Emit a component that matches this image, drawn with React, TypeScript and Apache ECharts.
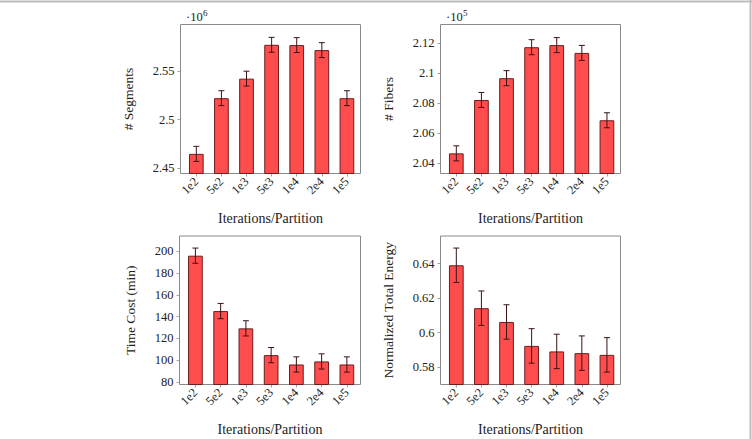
import React, { useEffect, useRef } from "react";
import * as echarts from "echarts";

const categories = ["1e2", "5e2", "1e3", "5e3", "1e4", "2e4", "1e5"];
const segments = [2.4645, 2.5221, 2.5423, 2.5773, 2.577, 2.5718, 2.5221];
const segmentsErr = [0.0078, 0.0077, 0.0077, 0.0077, 0.0077, 0.0077, 0.0077];
const fibers = [2.0467, 2.0822, 2.0967, 2.1173, 2.1187, 2.1135, 2.0687];
const fibersErr = [0.005, 0.005, 0.005, 0.005, 0.005, 0.005, 0.005];
const timeCost = [196, 145.1, 129.2, 104.6, 96, 98.8, 96];
const timeErr = [7, 7, 7, 7, 7, 7, 7];
const energy = [0.6391, 0.6142, 0.6062, 0.5923, 0.5891, 0.5881, 0.5871];
const energyErr = [0.01, 0.01, 0.01, 0.01, 0.01, 0.01, 0.01];

const segTicks = [2.45, 2.5, 2.55];
const fibTicks = [2.04, 2.06, 2.08, 2.1, 2.12];
const timeTicks = [80, 100, 120, 140, 160, 180, 200];
const energyTicks = [0.58, 0.6, 0.62, 0.64];

const FONT = "Liberation Serif";
const TXT = "#222222";

type Panel = {
  grid: { left: number; top: number; width: number; height: number };
  values: number[];
  errs: number[];
  ticks: number[];
  yMin: number;
  yMax: number;
  yName: string;
  nameGap: number;
};

const panels: Panel[] = [
  { grid: { left: 180.5, top: 24.5, width: 180, height: 149 }, values: segments, errs: segmentsErr, ticks: segTicks, yMin: 2.4442, yMax: 2.5983, yName: "# Segments", nameGap: 45 },
  { grid: { left: 440.5, top: 24.5, width: 180, height: 149 }, values: fibers, errs: fibersErr, ticks: fibTicks, yMin: 2.0333, yMax: 2.1324, yName: "# Fibers", nameGap: 45 },
  { grid: { left: 179.5, top: 236, width: 181, height: 148.5 }, values: timeCost, errs: timeErr, ticks: timeTicks, yMin: 77.6, yMax: 214.1, yName: "Time Cost (min)", nameGap: 42 },
  { grid: { left: 440.5, top: 236, width: 180, height: 148.5 }, values: energy, errs: energyErr, ticks: energyTicks, yMin: 0.5699, yMax: 0.6561, yName: "Normalized Total Energy", nameGap: 45 },
];

export default function App() {
  const ref = useRef<HTMLDivElement>(null);
  useEffect(() => {
    if (!ref.current) return;
    const chart = echarts.init(ref.current, null, { renderer: "svg" });
    const idx = categories.map((_, i) => i);
    const grids: any[] = [];
    const xAxes: any[] = [];
    const yAxes: any[] = [];
    const series: any[] = [];
    panels.forEach((p, k) => {
      grids.push({
        ...p.grid,
        show: true,
        borderColor: "#8a8a8a",
        borderWidth: 1,
        backgroundColor: "transparent",
        containLabel: false,
        outerBoundsMode: "none",
      });
      xAxes.push({
        type: "value",
        gridIndex: k,
        min: -0.63,
        max: 6.54,
        splitLine: { show: false },
        axisLine: { show: false, onZero: false },
        axisTick: { show: true, customValues: idx, length: 3, lineStyle: { color: "#a0a0a0" } },
        axisLabel: {
          customValues: idx,
          rotate: 45,
          margin: 6,
          fontFamily: FONT,
          fontSize: 12.5,
          color: TXT,
          formatter: (v: number) => categories[Math.round(v)] ?? "",
        },
        name: "Iterations/Partition",
        nameLocation: "middle",
        nameGap: 38,
        nameTextStyle: { fontFamily: FONT, fontSize: 14, color: TXT },
      });
      yAxes.push({
        type: "value",
        gridIndex: k,
        min: p.yMin,
        max: p.yMax,
        splitLine: { show: false },
        axisLine: { show: false, onZero: false },
        axisTick: { show: true, customValues: p.ticks, length: 3, lineStyle: { color: "#a0a0a0" } },
        axisLabel: {
          customValues: p.ticks,
          margin: 6,
          fontFamily: FONT,
          fontSize: 12.5,
          color: TXT,
          formatter: (v: number) => String(Number(v.toFixed(4))),
        },
        name: p.yName,
        nameLocation: "middle",
        nameRotate: 90,
        nameGap: p.nameGap,
        nameTextStyle: { fontFamily: FONT, fontSize: 13.5, color: TXT },
      });
      series.push({
        type: "bar",
        xAxisIndex: k,
        yAxisIndex: k,
        barWidth: 14.7,
        data: p.values.map((v, i) => [i, v]),
        itemStyle: { color: "#FF4D4D", borderColor: "#6e1c1c", borderWidth: 1 },
        silent: true,
      });
      series.push({
        type: "custom",
        xAxisIndex: k,
        yAxisIndex: k,
        data: p.values.map((v, i) => [i, v - p.errs[i], v + p.errs[i]]),
        renderItem: (params: any, api: any) => {
          const x = api.value(0);
          const lo = api.coord([x, api.value(1)]);
          const hi = api.coord([x, api.value(2)]);
          const cap = 3;
          const style = { stroke: "#3a1414", lineWidth: 1 };
          return {
            type: "group",
            children: [
              { type: "line", shape: { x1: lo[0], y1: lo[1], x2: hi[0], y2: hi[1] }, style },
              { type: "line", shape: { x1: lo[0] - cap, y1: lo[1], x2: lo[0] + cap, y2: lo[1] }, style },
              { type: "line", shape: { x1: hi[0] - cap, y1: hi[1], x2: hi[0] + cap, y2: hi[1] }, style },
            ],
          };
        },
        silent: true,
        z: 5,
      });
    });

    chart.setOption({
      animation: false,
      backgroundColor: "#ffffff",
      grid: grids,
      xAxis: xAxes,
      yAxis: yAxes,
      series,
      graphic: [
        { type: "line", shape: { x1: 0, y1: 1.5, x2: 752, y2: 1.5 }, style: { stroke: "#bdbdbd", lineWidth: 2 } },
        { type: "line", shape: { x1: 750.5, y1: 0, x2: 750.5, y2: 439 }, style: { stroke: "#bdbdbd", lineWidth: 2 } },
        { type: "text", x: 186, y: 17, style: { text: "·10", fontFamily: FONT, fontSize: 12.5, fill: TXT, verticalAlign: "middle" } },
        { type: "text", x: 203, y: 13, style: { text: "6", fontFamily: FONT, fontSize: 9, fill: TXT, verticalAlign: "middle" } },
        { type: "text", x: 446, y: 17, style: { text: "·10", fontFamily: FONT, fontSize: 12.5, fill: TXT, verticalAlign: "middle" } },
        { type: "text", x: 463, y: 13, style: { text: "5", fontFamily: FONT, fontSize: 9, fill: TXT, verticalAlign: "middle" } },
      ],
    });
    return () => chart.dispose();
  }, []);
  return (
    <div
      ref={ref}
      style={{ position: "fixed", left: 0, top: 0, width: 752, height: 439 }}
    />
  );
}
